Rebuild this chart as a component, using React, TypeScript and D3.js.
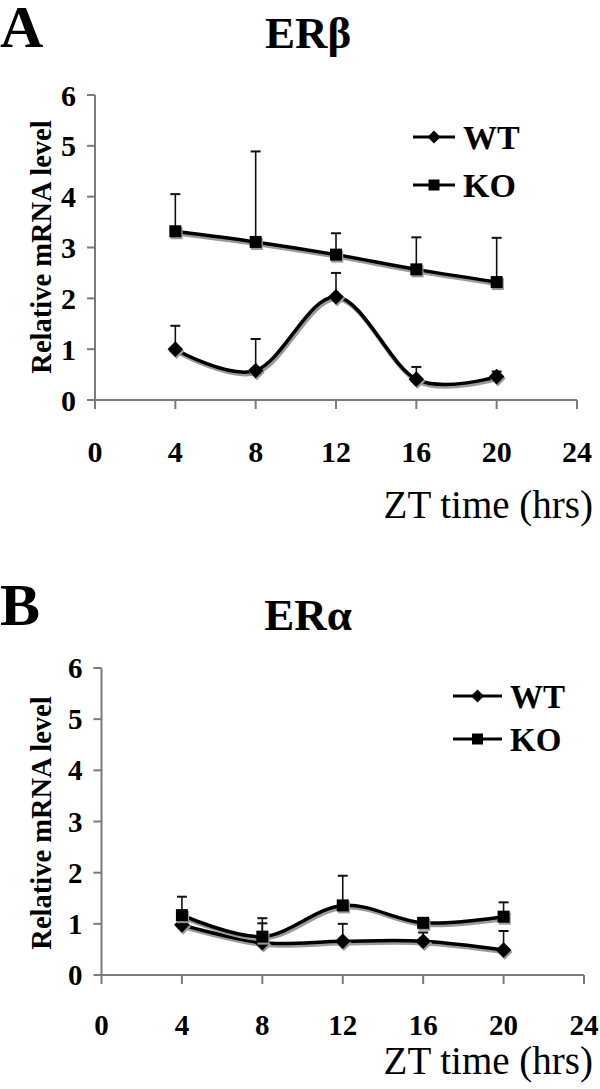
import React from "react";
import * as d3 from "d3";

const hours = [4, 8, 12, 16, 20];
const xTicks = [0, 4, 8, 12, 16, 20, 24];
const yTicks = [0, 1, 2, 3, 4, 5, 6];
const seriesNames = ["WT", "KO"];

// Panel A: ERβ
const erbWT = [1.0, 0.58, 2.03, 0.41, 0.46];
const erbWTErr = [0.46, 0.62, 0.47, 0.24, 0.1];
const erbKO = [3.32, 3.11, 2.86, 2.57, 2.32];
const erbKOErr = [0.73, 1.78, 0.42, 0.63, 0.87];

// Panel B: ERα
const eraWT = [0.98, 0.63, 0.66, 0.66, 0.49];
const eraWTErr = [0.2, 0.38, 0.34, 0.17, 0.37];
const eraKO = [1.17, 0.75, 1.36, 1.02, 1.14];
const eraKOErr = [0.36, 0.36, 0.58, 0.05, 0.28];

const FONT = "'Liberation Serif', 'Times New Roman', serif";
const AXIS = "#7a7a7a";

type Panel = {
  letter: string;
  title: string;
  wt: number[];
  wtErr: number[];
  ko: number[];
  koErr: number[];
  x0: number;
  x1: number;
  yBottom: number;
  yTop: number;
  letterY: number;
  titleY: number;
  legendX: number;
  legendY: number;
  legendGap: number;
  legendLen: number;
  legendFont: number;
  ylabelY: number;
  tickBaseline: number;
  xTitleBaseline: number;
  tickFont: number;
};

const panels: Panel[] = [
  {
    letter: "A", title: "ERβ", wt: erbWT, wtErr: erbWTErr, ko: erbKO, koErr: erbKOErr,
    x0: 95, x1: 577, yBottom: 400, yTop: 95, letterY: 47, titleY: 48,
    legendX: 413, legendY: 137, legendGap: 48, legendLen: 42, legendFont: 34,
    ylabelY: 247, tickBaseline: 462, xTitleBaseline: 518, tickFont: 30,
  },
  {
    letter: "B", title: "ERα", wt: eraWT, wtErr: eraWTErr, ko: eraKO, koErr: eraKOErr,
    x0: 101.5, x1: 584, yBottom: 975, yTop: 668, letterY: 625, titleY: 630,
    legendX: 453, legendY: 696, legendGap: 43, legendLen: 49, legendFont: 33,
    ylabelY: 823, tickBaseline: 1035, xTitleBaseline: 1074, tickFont: 29,
  },
];

function Marker({ kind, x, y, s, fill }: { kind: string; x: number; y: number; s: number; fill: string }) {
  if (kind === "KO") {
    return <rect x={x - s / 2} y={y - s / 2} width={s} height={s} fill={fill} />;
  }
  const v = s * 0.65;
  return <path d={`M${x},${y - v}L${x + v},${y}L${x},${y + v}L${x - v},${y}Z`} fill={fill} />;
}

function PanelView({ p }: { p: Panel }) {
  const x = d3.scaleLinear().domain([0, 24]).range([p.x0, p.x1]);
  const y = d3.scaleLinear().domain([0, 6]).range([p.yBottom, p.yTop]);
  const line = d3
    .line<number>()
    .x((_, i) => x(hours[i]))
    .y((d) => y(d))
    .curve(d3.curveCardinal.tension(0));
  const series = [
    { name: "WT", vals: p.wt, err: p.wtErr },
    { name: "KO", vals: p.ko, err: p.koErr },
  ];
  return (
    <g>
      <text x={0} y={p.letterY} fontFamily={FONT} fontWeight="bold" fontSize={60}>{p.letter}</text>
      <text x={308} y={p.titleY} fontFamily={FONT} fontWeight="bold" fontSize={45} textAnchor="middle">{p.title}</text>
      <text
        transform={`translate(51,${p.ylabelY}) rotate(-90)`}
        fontFamily={FONT}
        fontWeight="bold"
        fontSize={28.5}
        textAnchor="middle"
      >
        Relative mRNA level
      </text>
      {/* axes */}
      <line x1={p.x0} x2={p.x0} y1={y(6)} y2={y(0)} stroke={AXIS} strokeWidth={2} />
      <line x1={x(0)} x2={x(24)} y1={y(0)} y2={y(0)} stroke={AXIS} strokeWidth={2} />
      {yTicks.map((t) => (
        <g key={"y" + t}>
          <line x1={p.x0 - 8} x2={p.x0} y1={y(t)} y2={y(t)} stroke={AXIS} strokeWidth={2} />
          <text x={p.x0 - 19} y={y(t)} dy="0.35em" textAnchor="end" fontFamily={FONT} fontWeight="bold" fontSize={p.tickFont}>{t}</text>
        </g>
      ))}
      {xTicks.map((t) => (
        <g key={"x" + t}>
          <line x1={x(t)} x2={x(t)} y1={y(0)} y2={y(0) + 9} stroke={AXIS} strokeWidth={2} />
          <text x={x(t)} y={p.tickBaseline} textAnchor="middle" fontFamily={FONT} fontWeight="bold" fontSize={p.tickFont}>{t}</text>
        </g>
      ))}
      <text x={593} y={p.xTitleBaseline} textAnchor="end" fontFamily={FONT} fontSize={39}>ZT time (hrs)</text>
      {/* error bars */}
      {series.map((s) =>
        s.vals.map((v, i) => (
          <g key={s.name + "e" + i}>
            <line x1={x(hours[i])} x2={x(hours[i])} y1={y(v)} y2={y(v + s.err[i])} stroke="#111" strokeWidth={1.6} />
            <line x1={x(hours[i]) - 5} x2={x(hours[i]) + 5} y1={y(v + s.err[i])} y2={y(v + s.err[i])} stroke="#111" strokeWidth={2} />
          </g>
        ))
      )}
      {/* lines with shadow */}
      {series.map((s) => (
        <g key={s.name + "l"}>
          <path d={line(s.vals) || ""} fill="none" stroke="#9a9a9a" strokeWidth={4.5} transform="translate(1.2,2)" />
          <path d={line(s.vals) || ""} fill="none" stroke="#000" strokeWidth={3.5} />
          {s.vals.map((v, i) => (
            <g key={i}>
              <Marker kind={s.name} x={x(hours[i]) + 1.2} y={y(v) + 2} s={12} fill="#9a9a9a" />
              <Marker kind={s.name} x={x(hours[i])} y={y(v)} s={12} fill="#000" />
            </g>
          ))}
        </g>
      ))}
      {/* legend */}
      {seriesNames.map((n, i) => {
        const ly = p.legendY + i * p.legendGap;
        return (
          <g key={"lg" + n}>
            <line x1={p.legendX} x2={p.legendX + p.legendLen} y1={ly} y2={ly} stroke="#000" strokeWidth={3} />
            <Marker kind={n} x={p.legendX + p.legendLen / 2} y={ly} s={n === "KO" ? 11 : 10} fill="#000" />
            <text x={p.legendX + p.legendLen + 8} y={ly} dy="0.35em" fontFamily={FONT} fontWeight="bold" fontSize={p.legendFont}>{n}</text>
          </g>
        );
      })}
    </g>
  );
}

export default function App() {
  return (
    <svg
      width={600}
      height={1089}
      viewBox="0 0 600 1089"
      style={{ position: "absolute", left: 0, top: 0, background: "#fff" }}
    >
      <rect width={600} height={1089} fill="#fff" />
      {panels.map((p) => (
        <PanelView key={p.letter} p={p} />
      ))}
    </svg>
  );
}
